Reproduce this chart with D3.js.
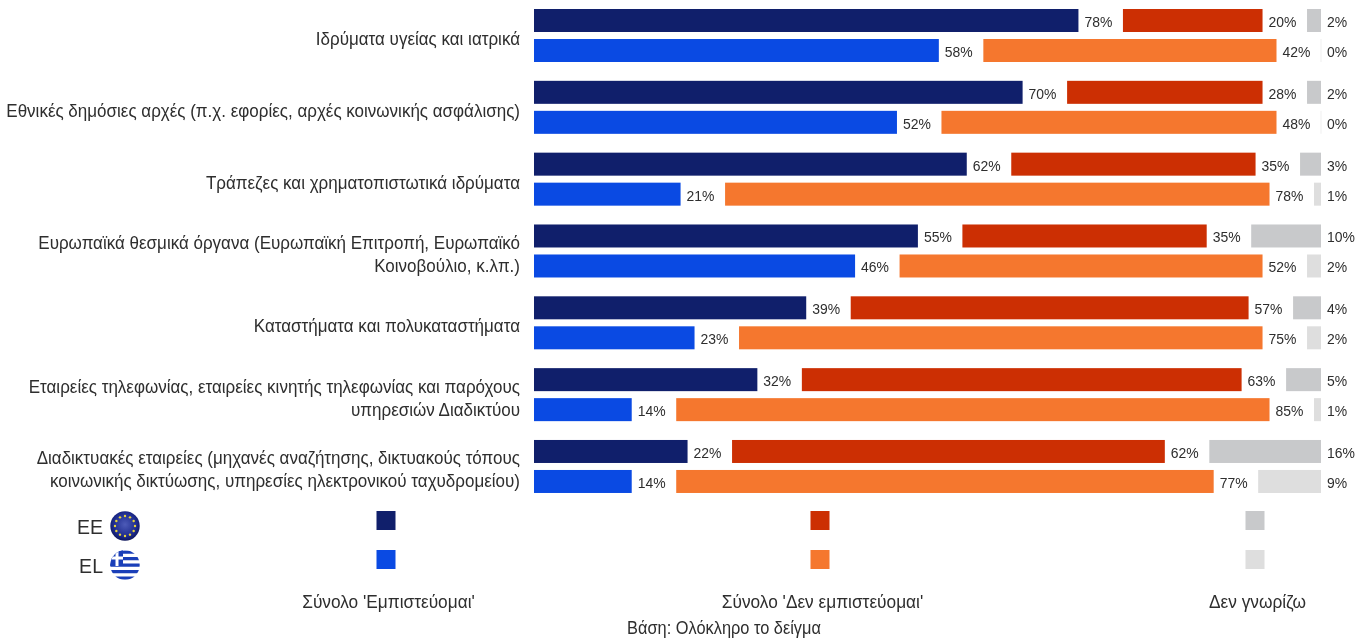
<!DOCTYPE html>
<html><head><meta charset="utf-8">
<style>html,body{margin:0;padding:0;background:#fff;overflow:hidden}svg{display:block;filter:blur(0.35px)}
text{font-family:"Liberation Sans",Arial,sans-serif;fill:#2e2e2e}</style>
<script src="https://cdn.jsdelivr.net/npm/d3@7/dist/d3.min.js"></script>
</head><body><div id="c"></div>
<script>
const categories = [
 ["Ιδρύματα υγείας και ιατρικά"],
 ["Εθνικές δημόσιες αρχές (π.χ. εφορίες, αρχές κοινωνικής ασφάλισης)"],
 ["Τράπεζες και χρηματοπιστωτικά ιδρύματα"],
 ["Ευρωπαϊκά θεσμικά όργανα (Ευρωπαϊκή Επιτροπή, Ευρωπαϊκό","Κοινοβούλιο, κ.λπ.)"],
 ["Καταστήματα και πολυκαταστήματα"],
 ["Εταιρείες τηλεφωνίας, εταιρείες κινητής τηλεφωνίας και παρόχους","υπηρεσιών Διαδικτύου"],
 ["Διαδικτυακές εταιρείες (μηχανές αναζήτησης, δικτυακούς τόπους","κοινωνικής δικτύωσης, υπηρεσίες ηλεκτρονικού ταχυδρομείου)"]
];
const trustEU = [78,70,62,55,39,32,22];
const trustEL = [58,52,21,46,23,14,14];
const distrustEU = [20,28,35,35,57,63,62];
const distrustEL = [42,48,78,52,75,85,77];
const dkEU = [2,2,3,10,4,5,16];
const dkEL = [0,0,1,2,2,1,9];
const groups = ["EE","EL"];
const legendLabels = ["Σύνολο 'Εμπιστεύομαι'","Σύνολο 'Δεν εμπιστεύομαι'","Δεν γνωρίζω"];
const footer = "Βάση: Ολόκληρο το δείγμα";
const colors = {EE:["#101f6b","#cc2f03","#c8c9cb"],EL:["#0a4ae3","#f5772e","#dedede"]};

const W=1355,H=639, x0=534, gap=44.5, rightEdge=1321;
const svg=d3.select("#c").append("svg").attr("width",W).attr("height",H);
const w=d3.scaleLinear().domain([0,100]).range([0,698]);
const y=d3.scaleBand().domain(d3.range(categories.length)).range([2.5,505.3]);
const sub=d3.scaleBand().domain(groups).range([6.5,59.5]).paddingInner(7/30);

function label(g,t,x,yy,size,sx,anchor){
  return g.append("text").attr("transform",`translate(${x},${yy}) scale(${sx},1)`)
    .attr("text-anchor",anchor||"start").attr("font-size",size).text(t);
}

const defs=svg.append("defs");
const rg=defs.append("radialGradient").attr("id","euG").attr("cx","50%").attr("cy","45%").attr("r","55%");
rg.append("stop").attr("offset","0%").attr("stop-color","#4d5bb8");
rg.append("stop").attr("offset","75%").attr("stop-color","#1c2a8c");
rg.append("stop").attr("offset","100%").attr("stop-color","#10185c");
defs.append("clipPath").attr("id","grC").append("circle").attr("cx",125).attr("cy",565).attr("r",14.7);

categories.forEach((lines,i)=>{
  const g=svg.append("g").attr("transform",`translate(0,${y(i)})`);
  const mid=(sub("EE")+sub("EL")+sub.bandwidth())/2;
  const n=lines.length;
  lines.forEach((t,k)=>label(g,t,520,mid+(k-(n-1)/2)*23+9.5,18,0.945,"end"));
  groups.forEach((grp,gi)=>{
    const vals = gi===0?[trustEU[i],distrustEU[i],dkEU[i]]:[trustEL[i],distrustEL[i],dkEL[i]];
    const yy=sub(grp), h=sub.bandwidth();
    const redX=x0+w(vals[0])+gap;
    const grayX=rightEdge-w(vals[2]);
    const xs=[x0,redX,grayX];
    vals.forEach((v,j)=>{
      if(v>0) g.append("rect").attr("x",xs[j]).attr("y",yy).attr("width",w(v)).attr("height",h).attr("fill",colors[grp][j]);
      else g.append("rect").attr("x",xs[j]-0.5).attr("y",yy).attr("width",1).attr("height",h).attr("fill","#f0f0f0");
      label(g,v+"%",xs[j]+w(v)+6,yy+h/2+6.5,15.5,0.9);
    });
  });
});

// legend
const legX=[386,820,1255];
legX.forEach((lx,j)=>{
  groups.forEach((grp,gi)=>{
    svg.append("rect").attr("x",lx-9.5).attr("y",511+gi*39).attr("width",19).attr("height",19).attr("fill",colors[grp][j]);
  });
  label(svg,legendLabels[j],lx+2.5,607.5,18,0.96,"middle");
});
label(svg,footer,724,634,18,0.91,"middle");

// group labels + flags
label(svg,"EE",103,533.5,21,0.93,"end");
label(svg,"EL",103,573,21,0.93,"end");
svg.append("circle").attr("cx",125).attr("cy",526).attr("r",14.7).attr("fill","url(#euG)");
d3.range(12).forEach(i=>{
  const a=i*Math.PI/6;
  svg.append("circle").attr("cx",125+10*Math.cos(a)).attr("cy",526+10*Math.sin(a)).attr("r",1.2).attr("fill","#e6d23a");
});
const fl=svg.append("g").attr("clip-path","url(#grC)");
fl.append("rect").attr("x",110).attr("y",550).attr("width",30).attr("height",30).attr("fill","#fff");
d3.range(0,9,2).forEach(i=>fl.append("rect").attr("x",110).attr("y",550.5+i*3.25).attr("width",30).attr("height",3.25).attr("fill","#1a3fb8"));
fl.append("rect").attr("x",110).attr("y",550).attr("width",13).attr("height",16).attr("fill","#1a3fb8");
fl.append("rect").attr("x",110).attr("y",556.5).attr("width",13).attr("height",3).attr("fill","#fff");
fl.append("rect").attr("x",115.5).attr("y",550).attr("width",3).attr("height",16).attr("fill","#fff");
</script></body></html>
